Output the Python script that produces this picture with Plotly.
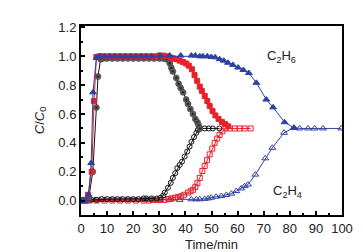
import plotly.graph_objects as go

# Material A (black)
a_c2h6_t = [0, 1, 2, 3, 4.5, 5.9, 6.5, 7.5, 8.5, 10, 12, 14, 16, 18, 20, 22, 24, 26, 28, 30, 31.5,
            32.7, 34.0, 34.6, 35.2, 36.5, 37.4, 38.2, 39.1, 40.3, 41.0, 41.9, 42.9, 43.8, 44.6, 45.1, 45.6]
a_c2h6_v = [0, 0, 0, 0.02, 0.2, 0.645, 0.86, 0.98, 0.985, 0.985, 0.985, 0.985, 0.985, 0.985, 0.985, 0.985,
            0.985, 0.985, 0.985, 0.985, 0.985, 0.98, 0.952, 0.92, 0.895, 0.85, 0.81, 0.78, 0.75, 0.70, 0.67,
            0.634, 0.60, 0.566, 0.543, 0.52, 0.5]
a_c2h4_t = [0, 2, 4, 6, 8, 10, 12, 14, 16, 18, 20, 22, 24, 25, 27, 29, 30.5, 31.5, 32.1, 33.3, 34.4, 35.2,
            36.1, 36.9, 37.8, 38.7, 39.7, 40.7, 41.6, 42.3, 43.3, 44.2, 44.8, 45.7, 47.4, 48.9, 50.5, 53.0]
a_c2h4_v = [0, 0.005, 0.005, 0.005, 0.01, 0.01, 0.01, 0.01, 0.01, 0.01, 0.01, 0.01, 0.015, 0.015, 0.015,
            0.015, 0.02, 0.035, 0.055, 0.089, 0.123, 0.157, 0.19, 0.225, 0.247, 0.27, 0.305, 0.34, 0.374,
            0.407, 0.44, 0.47, 0.49, 0.5, 0.5, 0.5, 0.5, 0.5]

# Material B (red)
b_c2h6_t = [0, 1, 2, 2.7, 4.1, 5.0, 5.9, 7, 8, 10, 12, 14, 16, 18, 20, 22, 24, 26, 28, 30, 31.5, 33,
            34.5, 35.5, 36.5, 37.8, 39.1, 40.3, 41.3, 42.5, 43.5, 44.5, 45.5, 46.3, 47.4, 48.4, 49.3, 50.4,
            51.5, 52.7, 54.0, 55.2, 56.3]
b_c2h6_v = [0, 0, 0, 0.04, 0.2, 0.69, 0.995, 1.0, 1.0, 1.0, 1.0, 1.0, 1.0, 1.0, 1.0, 1.0, 1.0, 1.0, 1.0,
            1.005, 1.005, 1.0, 0.99, 0.985, 0.98, 0.97, 0.96, 0.95, 0.935, 0.91, 0.87, 0.83, 0.79, 0.76,
            0.725, 0.69, 0.655, 0.62, 0.59, 0.565, 0.545, 0.53, 0.515]
b_c2h4_t = [0, 3, 6, 9, 12, 15, 18, 21, 24, 26, 27.5, 29, 30.5, 32, 33.5, 34.6, 36, 37.2, 38.4, 39.5, 41,
            42, 42.9, 43.8, 44.6, 45.5, 46.5, 47.4, 48.3, 49.3, 50.3, 51.2, 52.2, 53.1, 54.2, 55.4, 57,
            58.9, 60.8, 62.7, 65]
b_c2h4_v = [0, 0, 0, 0, 0, 0, 0, 0, 0, 0, 0.005, 0.005, 0.005, 0.005, 0.01, 0.015, 0.02, 0.025, 0.03,
            0.04, 0.055, 0.065, 0.075, 0.095, 0.12, 0.157, 0.205, 0.24, 0.28, 0.32, 0.36, 0.40, 0.43,
            0.455, 0.48, 0.5, 0.5, 0.5, 0.5, 0.5, 0.5]

# Material C (blue)
c_c2h6_t = [0, 1, 2, 2.9, 3.9, 4.6, 5.9, 7.2, 9, 11, 13, 15, 17, 19, 21, 23, 25, 27, 30.2, 34, 38.2,
            42.3, 43.8, 45.5, 46.7, 48.4, 49.9, 51.4, 53.1, 54.7, 56.3, 58.2, 60.2, 62.2, 64.3, 67.2, 71.0,
            73.6, 78.0, 81.6]
c_c2h6_v = [0, 0, 0, 0.04, 0.26, 0.75, 0.99, 1.0, 1.0, 1.0, 1.0, 1.0, 1.0, 1.0, 1.0, 1.0, 1.0, 1.0,
            1.005, 1.005, 1.005, 1.005, 1.005, 1.0, 1.0, 1.0, 0.995, 0.993, 0.98, 0.97, 0.955, 0.94,
            0.922, 0.905, 0.884, 0.816, 0.70, 0.646, 0.543, 0.504]
c_c2h4_t = [0, 0.8, 3.3, 5.2, 7.2, 9.2, 11.2, 13.2, 15.2, 17.2, 19.2, 21.2, 23.2, 25.2, 27.2, 30.2, 34,
            37.8, 42.3, 44.2, 45.5, 47.4, 48.7, 49.9, 51.8, 53.8, 55.7, 57.6, 59.5, 61.4, 62.7, 64.0,
            66.8, 70.6, 73.3, 77.8, 81.6, 83.8, 87.0, 89.5, 92.7, 99.7]
c_c2h4_v = [0, 0.005, 0.005, 0.005, 0.005, 0.005, 0.005, 0.005, 0.005, 0.005, 0.005, 0.005, 0.005,
            0.005, 0.005, 0.005, 0.005, 0.005, 0.009, 0.009, 0.009, 0.012, 0.015, 0.02, 0.027, 0.032,
            0.039, 0.048, 0.066, 0.084, 0.1, 0.111, 0.18, 0.293, 0.366, 0.47, 0.505, 0.5, 0.5, 0.5, 0.5,
            0.5]

BLACK = "#111111"
RED = "#e8202a"
BLUE = "#2f41a0"
FONT = "Liberation Sans, Arial"

fig = go.Figure()

def add(t, v, color, symbol, size, fill=None, gradient=None, lw=1):
    marker = dict(symbol=symbol, size=size, color=fill if fill else color,
                  line=dict(color=color, width=lw))
    if gradient:
        marker["gradient"] = gradient
    fig.add_trace(go.Scatter(x=t, y=v, mode="lines+markers",
                             line=dict(color=color, width=1), marker=marker,
                             showlegend=False))

add(c_c2h4_t, c_c2h4_v, BLUE, "triangle-up-open", 6)
add(b_c2h4_t, b_c2h4_v, RED, "square-open", 5)
add(a_c2h4_t, a_c2h4_v, BLACK, "circle-open", 5)
add(a_c2h6_t, a_c2h6_v, BLACK, "circle", 6, fill="#8a8a8a",
    gradient=dict(type="radial", color="#111111"), lw=0.5)
add(b_c2h6_t, b_c2h6_v, RED, "square", 5)
add(c_c2h6_t, c_c2h6_v, BLUE, "triangle-up", 6)

fig.add_annotation(x=77, y=1.0, text="C<sub>2</sub>H<sub>6</sub>", showarrow=False,
                   font=dict(family=FONT, size=13, color="#222"), xanchor="center", yanchor="middle")
fig.add_annotation(x=79, y=0.06, text="C<sub>2</sub>H<sub>4</sub>", showarrow=False,
                   font=dict(family=FONT, size=13, color="#222"), xanchor="center", yanchor="middle")
fig.add_annotation(xref="paper", yref="paper", x=0.5, y=-0.155, text="Time/min", showarrow=False,
                   font=dict(family=FONT, size=13, color="#222"), xanchor="center", yanchor="middle")

axis_common = dict(showline=True, linewidth=2, linecolor="black", mirror=True,
                   ticks="inside", ticklen=4, tickwidth=1.5, tickcolor="black",
                   showgrid=False, zeroline=False,
                   tickfont=dict(family=FONT, size=13, color="#222"))

fig.update_xaxes(range=[0, 100], dtick=10, tick0=0,
                 minor=dict(dtick=5, ticks="inside", ticklen=2, tickcolor="black"),
                 **axis_common)
fig.update_yaxes(range=[-0.1, 1.21], dtick=0.2, tick0=0, tickformat=".1f",
                 minor=dict(dtick=0.1, ticks="inside", ticklen=2, tickcolor="black"),
                 title=dict(text="<i>C</i>/<i>C</i><sub>0</sub>",
                            font=dict(family=FONT, size=13, color="#222"),
                            standoff=11),
                 **axis_common)

fig.update_layout(width=363, height=252, margin=dict(l=73, r=29, t=15, b=45),
                  plot_bgcolor="white", paper_bgcolor="white",
                  font=dict(family=FONT))

fig.write_html("out.html")
